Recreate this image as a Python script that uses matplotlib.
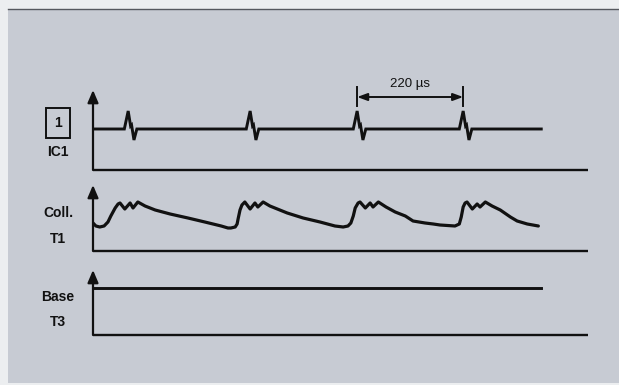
import matplotlib.pyplot as plt
from matplotlib.patches import Rectangle

plt.rcParams['font.family'] = ['Liberation Sans', 'DejaVu Sans']

# time axis in microseconds, signal levels in arbitrary divisions
t_end = 1027
sig_end = 930

# IC1 output: flat level with a short spike every ~220 us
ic1_t = [0, 65, 73, 78, 80, 85, 91,
         318, 326, 331, 333, 338, 344,
         540, 548, 553, 555, 560, 566,
         760, 768, 773, 775, 780, 786, 930]
ic1_v = [4.1, 4.1, 5.9, 4.4, 4.5, 3.0, 4.1,
         4.1, 5.9, 4.4, 4.5, 3.0, 4.1,
         4.1, 5.9, 4.4, 4.5, 3.0, 4.1,
         4.1, 5.9, 4.4, 4.5, 3.0, 4.1, 4.1]

# collector of T1
coll_t = [0, 6, 14, 23, 31, 37, 46, 52, 56, 66, 77, 83, 93,
          108, 129, 160, 197, 232, 266, 280, 286, 295, 299, 301, 305, 309,
          315, 326, 336, 342, 353,
          367, 403, 436, 471, 502, 519, 529, 535, 540, 544, 550,
          554, 565, 575, 581, 592,
          608, 627, 648, 664, 689, 706, 720, 751, 760, 764, 768, 772,
          776, 787, 797, 803, 814,
          828, 845, 866, 880, 901, 924]
coll_v = [2.8, 2.5, 2.4, 2.5, 2.9, 3.5, 4.3, 4.7, 4.8, 4.2, 4.8, 4.3, 4.9,
          4.5, 4.1, 3.7, 3.3, 2.9, 2.5, 2.3, 2.3, 2.4, 2.7, 3.2, 4.1, 4.6,
          4.9, 4.2, 4.8, 4.4, 4.9,
          4.5, 3.8, 3.3, 2.9, 2.5, 2.4, 2.5, 2.8, 3.5, 4.3, 4.8,
          4.9, 4.3, 4.8, 4.4, 4.9,
          4.4, 3.9, 3.5, 3.0, 2.8, 2.7, 2.6, 2.5, 2.7, 3.4, 4.4, 4.8,
          4.9, 4.2, 4.7, 4.4, 4.9,
          4.5, 4.1, 3.4, 3.0, 2.7, 2.5]

# base of T3 stays at a constant level
base_t = [0, sig_end]
base_v = [4.7, 4.7]

period_start = 548
period_stop = 768

W, H = 619, 385
bg = '#c7cbd3'
ink = '#111111'

fig = plt.figure(figsize=(W / 100, H / 100), dpi=100)
fig.patch.set_facecolor('#eceef0')
fig.add_artist(Rectangle((8 / W, 2 / H), (W - 8) / W, (H - 11) / H,
                         transform=fig.transFigure, facecolor=bg,
                         edgecolor='none', zorder=-5))
fig.add_artist(plt.Line2D([8 / W, 1], [(H - 9) / H] * 2, color='#55585e',
                          lw=1.0, transform=fig.transFigure, zorder=-4))


def panel(top, bottom, ymax):
    ax = fig.add_axes([93 / W, (H - bottom) / H, 495 / W, (bottom - top) / H])
    ax.set_xlim(0, t_end)
    ax.set_ylim(0, ymax)
    ax.set_axis_off()
    ax.plot([0, t_end], [0, 0], color=ink, lw=1.7, solid_capstyle='butt',
            clip_on=False)
    ax.annotate('', xy=(0, ymax), xytext=(0, 0),
                arrowprops=dict(arrowstyle='-|>,head_length=0.75,head_width=0.32',
                                lw=1.6, color=ink, shrinkA=0, shrinkB=0),
                annotation_clip=False)
    return ax


ax1 = panel(90, 170, 8.0)
ax2 = panel(185, 251, 6.6)
ax3 = panel(270, 335, 6.5)

ax1.plot(ic1_t, ic1_v, color=ink, lw=2.1, solid_joinstyle='miter')
ax2.plot(coll_t, coll_v, color=ink, lw=2.3, solid_joinstyle='round',
         solid_capstyle='round')
ax3.plot(base_t, base_v, color=ink, lw=2.1)

# 220 us period marker
for t in (period_start, period_stop):
    ax1.plot([t, t], [6.4, 8.3], color=ink, lw=1.4, clip_on=False)
ax1.annotate('', xy=(period_start, 7.3), xytext=(period_stop, 7.3),
             arrowprops=dict(arrowstyle='<|-|>,head_length=0.6,head_width=0.22',
                             lw=1.4, color=ink, shrinkA=0, shrinkB=0),
             annotation_clip=False)
ax1.text((period_start + period_stop) / 2, 8.6, '220 \u00b5s', ha='center',
         va='center', fontsize=9.5, color=ink, clip_on=False)

# channel labels
fig.text(58 / W, 1 - 123 / H, '1', ha='center', va='center', fontsize=10,
         fontweight='bold', color=ink,
         bbox=dict(boxstyle='square,pad=0.6', fc='none', ec=ink, lw=1.4))
labels = [('IC1', 152), ('Coll.', 213), ('T1', 239), ('Base', 297), ('T3', 322)]
for txt, y in labels:
    fig.text(58 / W, 1 - y / H, txt, ha='center', va='center', fontsize=10,
             fontweight='bold', color=ink)

fig.savefig('out.png', dpi=100, facecolor=fig.get_facecolor())
